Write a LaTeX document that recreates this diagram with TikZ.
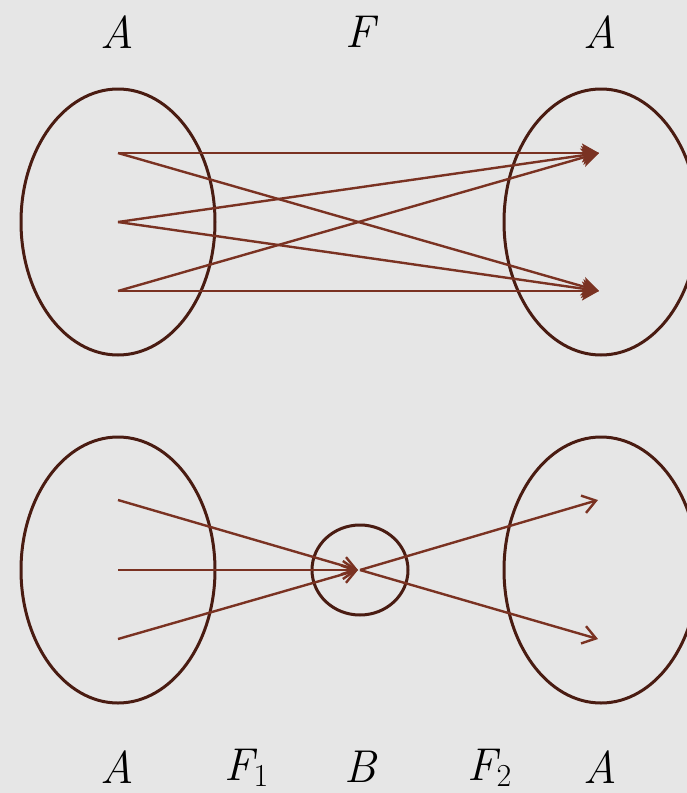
\documentclass[tikz,border=0pt]{standalone}
\usetikzlibrary{arrows.meta,shapes.geometric}
\definecolor{bgc}{HTML}{E6E6E6}
\definecolor{ellc}{HTML}{4A1C12}
\definecolor{arrc}{HTML}{7A3222}
\newcommand{\subdig}[1]{\raisebox{-0.15em}{\fontsize{32}{32}\selectfont\upshape #1}}
\tikzset{
  setell/.style={draw=ellc,line width=3pt,ellipse,minimum width=194pt,minimum height=266pt,inner sep=0pt},
  smallell/.style={draw=ellc,line width=3pt,ellipse,minimum width=96pt,minimum height=90pt,inner sep=0pt},
  maparr/.style={draw=arrc,line width=2.4pt,-{Stealth[length=17pt,width=19pt,inset=4pt]}},
  openarr/.style={draw=arrc,line width=2.4pt,-{Straight Barb[length=13pt,width=18pt,line width=2.4pt]}},
  lab/.style={font=\fontsize{46}{52}\selectfont\itshape,text=black,inner sep=0pt}
}
\begin{document}
\begin{tikzpicture}[x=1pt,y=-1pt]
\useasboundingbox[fill=bgc] (0,0) rectangle (687,793);
% top sets
\node[setell] (TL) at (118,222) {};
\node[setell] (TR) at (601,222) {};
\coordinate (a1) at (118,153);
\coordinate (a2) at (118,222);
\coordinate (a3) at (118,291);
\coordinate (b1) at (599,153);
\coordinate (b2) at (599,291);
\draw[maparr] (a1) -- (b1);
\draw[maparr] (a1) -- (b2);
\draw[maparr] (a2) -- (b1);
\draw[maparr] (a2) -- (b2);
\draw[maparr] (a3) -- (b1);
\draw[maparr] (a3) -- (b2);
% bottom sets
\node[setell] (BL) at (118,570) {};
\node[setell] (BR) at (601,570) {};
\node[smallell] (BB) at (360,570) {};
\coordinate (c1) at (118,500);
\coordinate (c2) at (118,570);
\coordinate (c3) at (118,639);
\coordinate (m) at (358,570);
\coordinate (m2) at (360,570);
\coordinate (d1) at (598,500);
\coordinate (d2) at (598,639);
\draw[openarr] (c1) -- (m);
\draw[openarr] (c2) -- (m);
\draw[openarr] (c3) -- (m);
\draw[openarr] (m2) -- (d1);
\draw[openarr] (m2) -- (d2);
% labels
\node[lab] (lA1) at (117,32) {A};
\node[lab] (lF) at (360,32) {F};
\node[lab] (lA2) at (600,32) {A};
\node[lab] (lA3) at (117,767) {A};
\node[lab,anchor=base west] (lF1) at (224,780) {F\subdig{1}};
\node[lab] (lB) at (360,767) {B};
\node[lab,anchor=base west] (lF2) at (467,780) {F\subdig{2}};
\node[lab] (lA4) at (600,767) {A};
\end{tikzpicture}
\end{document}
